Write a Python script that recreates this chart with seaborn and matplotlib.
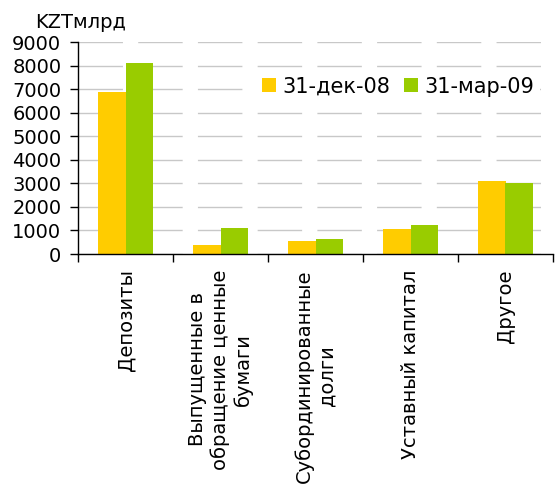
import matplotlib
matplotlib.use("Agg")
import matplotlib.pyplot as plt
import seaborn as sns
import pandas as pd
from matplotlib.ticker import FixedLocator, NullFormatter

categories = [
    "Депозиты",
    "Выпущенные в\nобращение ценные\nбумаги",
    "Субординированные\nдолги",
    "Уставный капитал",
    "Другое",
]
series_names = ["31-дек-08", "31-мар-09"]
dec_08 = [6880, 380, 550, 1060, 3100]
mar_09 = [8110, 1100, 630, 1230, 3010]
y_ticks = [0, 1000, 2000, 3000, 4000, 5000, 6000, 7000, 8000, 9000]
unit_label = "KZTмлрд"

df = pd.DataFrame({
    "cat": categories * 2,
    "period": [series_names[0]] * len(categories) + [series_names[1]] * len(categories),
    "value": dec_08 + mar_09,
})

sns.set_style("white")
plt.rcParams["font.family"] = ["DejaVu Sans"]
plt.rcParams["text.color"] = "black"
plt.rcParams["xtick.color"] = "black"
plt.rcParams["ytick.color"] = "black"

fig = plt.figure(figsize=(5.55, 4.88), dpi=100)
ax = fig.add_axes([78 / 555, 1 - 254 / 488, 475 / 555, 212 / 488])

sns.barplot(
    data=df, x="cat", y="value", hue="period", order=categories,
    hue_order=series_names, palette=["#FFCC00", "#99CC00"],
    width=0.58, gap=0, saturation=1, ax=ax, legend=True,
)
for p in ax.patches:
    p.set_edgecolor("none")

ax.set_xlim(-0.5, len(categories) - 0.5)
ax.set_ylim(0, 9000)
ax.set_yticks(y_ticks)
ax.tick_params(axis="y", labelsize=14, length=6, width=1, color="black",
               labelcolor="black", left=True, pad=6)
ax.set_xlabel("")
ax.set_ylabel("")

# Category boundaries carry the tick marks; the labels sit between them
ax.xaxis.set_major_locator(FixedLocator([i - 0.5 for i in range(len(categories) + 1)]))
ax.xaxis.set_major_formatter(NullFormatter())
ax.xaxis.set_minor_locator(FixedLocator(list(range(len(categories)))))
ax.set_xticklabels(categories, minor=True, rotation=90, ha="center", va="top",
                   multialignment="center", fontsize=14, color="black")
ax.tick_params(axis="x", which="major", length=6, width=1, color="black", bottom=True)
ax.tick_params(axis="x", which="minor", length=0, pad=11)

for s in ["top", "right"]:
    ax.spines[s].set_visible(False)
for s in ["left", "bottom"]:
    ax.spines[s].set_color("black")
    ax.spines[s].set_linewidth(1)

ax.yaxis.grid(True, color="#c8c8c8", linestyle=(0, (32, 11)), linewidth=1.0)
ax.xaxis.grid(False)
ax.set_axisbelow(True)

handles, labels = ax.get_legend_handles_labels()
leg = ax.legend(handles, labels, ncol=2, loc="center", bbox_to_anchor=(0.674, 0.79),
                frameon=True, facecolor="white", edgecolor="none", framealpha=1,
                fontsize=15, handlelength=0.65, handleheight=0.65, handletextpad=0.3,
                columnspacing=0.7, borderpad=0.3, fancybox=False)
for t in leg.get_texts():
    t.set_color("black")

fig.text(35 / 555, 1 - 22 / 488, unit_label, fontsize=14, ha="left", va="center",
         color="black")

fig.savefig("out.png", dpi=100, facecolor="white")
